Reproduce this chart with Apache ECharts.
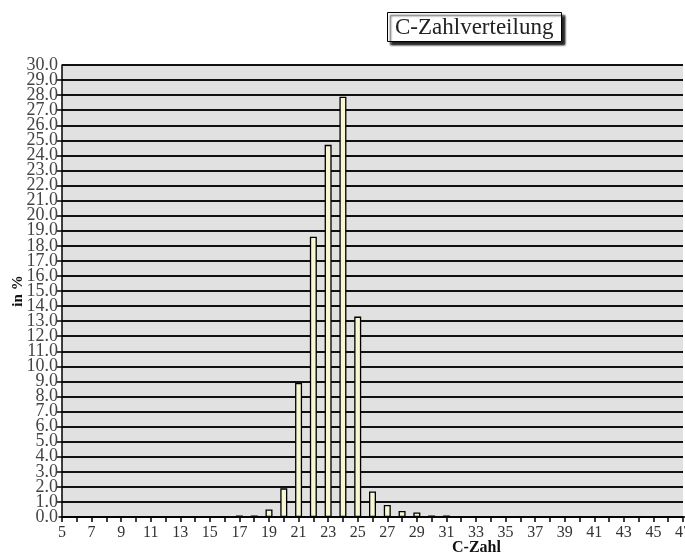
<!doctype html>
<html lang="de">
<head>
<meta charset="UTF-8">
<title>C-Zahlverteilung</title>
<script src="https://cdn.jsdelivr.net/npm/echarts@6/dist/echarts.min.js"></script>
<style>
  html, body { margin: 0; padding: 0; background: #fff; }
  #main { width: 685px; height: 558px; }
</style>
</head>
<body>
<div id="main"></div>
<script>
// C-Zahl 5..47
var cZahl = [];
for (var c = 5; c <= 47; c++) cZahl.push(String(c));

// Anteil in % je C-Zahl
var anteil = {
  17: 0.1, 18: 0.1, 19: 0.5, 20: 1.9, 21: 8.9, 22: 18.6, 23: 24.7,
  24: 27.9, 25: 13.3, 26: 1.7, 27: 0.8, 28: 0.4, 29: 0.3, 30: 0.1, 31: 0.1
};
var werte = cZahl.map(function (k) { return anteil[k] !== undefined ? anteil[k] : 0; });

var yMin = 0, yMax = 30;

var myChart = echarts.init(document.getElementById('main'));

var serif = '"Liberation Serif", "DejaVu Serif", serif';
var yLabelStyle = {
  margin: 4,
  formatter: function (v) { return '{a|' + v.toFixed(1) + '}'; },
  rich: { a: { fontFamily: serif, fontSize: 18, lineHeight: 11, color: '#444' } }
};

var option = {
  backgroundColor: '#fff',
  animation: false,
  title: {
    text: 'C-Zahlverteilung',
    left: 387,
    top: 12,
    padding: [4, 8, 3, 8],
    backgroundColor: '#fff',
    borderColor: '#000',
    borderWidth: 1,
    shadowColor: 'rgba(0,0,0,0.85)',
    shadowBlur: 2,
    shadowOffsetX: 3,
    shadowOffsetY: 3,
    textStyle: { fontFamily: serif, fontSize: 23, fontWeight: 'normal', color: '#222' }
  },
  grid: {
    left: 62, right: 2, top: 65, bottom: 41,
    outerBoundsMode: 'none',
    containLabel: false,
    show: true,
    backgroundColor: '#e1e1e1',
    borderWidth: 0
  },
  xAxis: {
    type: 'category',
    data: cZahl,
    boundaryGap: false,
    name: 'C-Zahl',
    nameLocation: 'middle',
    nameGap: 23,
    nameMoveOverlap: false,
    nameTextStyle: { fontFamily: serif, fontSize: 16, fontWeight: 'bold', color: '#111', padding: [0, 0, 0, 208] },
    axisLine: { lineStyle: { color: '#000', width: 1.5 } },
    axisTick: { interval: 0, length: 5, lineStyle: { color: '#000', width: 1.5 } },
    axisLabel: { interval: 1, fontFamily: serif, fontSize: 16, color: '#333', margin: 8,
                 showMinLabel: true, showMaxLabel: true },
    splitLine: { show: false }
  },
  yAxis: [{
    type: 'value',
    min: yMin, max: yMax, interval: 1,
    name: 'in %',
    nameLocation: 'middle',
    nameGap: 36,
    nameRotate: 90,
    nameMoveOverlap: false,
    nameTextStyle: { fontFamily: serif, fontSize: 15, fontWeight: 'bold', color: '#111' },
    axisLine: { show: true, lineStyle: { color: '#000', width: 1.5 } },
    axisTick: { show: true, length: 5, lineStyle: { color: '#000', width: 1.5 } },
    axisLabel: Object.assign({ showMinLabel: false, showMaxLabel: false }, yLabelStyle),
    splitLine: { lineStyle: { color: '#111', width: 1.8 } }
  }, {
    // nur für die Randbeschriftungen 0.0 und 30.0
    type: 'value',
    position: 'left',
    min: yMin, max: yMax, interval: yMax - yMin,
    axisLine: { show: false },
    axisTick: { show: false },
    splitLine: { show: false },
    axisLabel: Object.assign({ showMinLabel: true, showMaxLabel: true }, yLabelStyle)
  }],
  series: [{
    type: 'bar',
    data: werte,
    barWidth: 7,
    itemStyle: { color: '#f7f7d2', borderColor: '#000', borderWidth: 1.3 }
  }]
};
myChart.setOption(option);
</script>
</body>
</html>
